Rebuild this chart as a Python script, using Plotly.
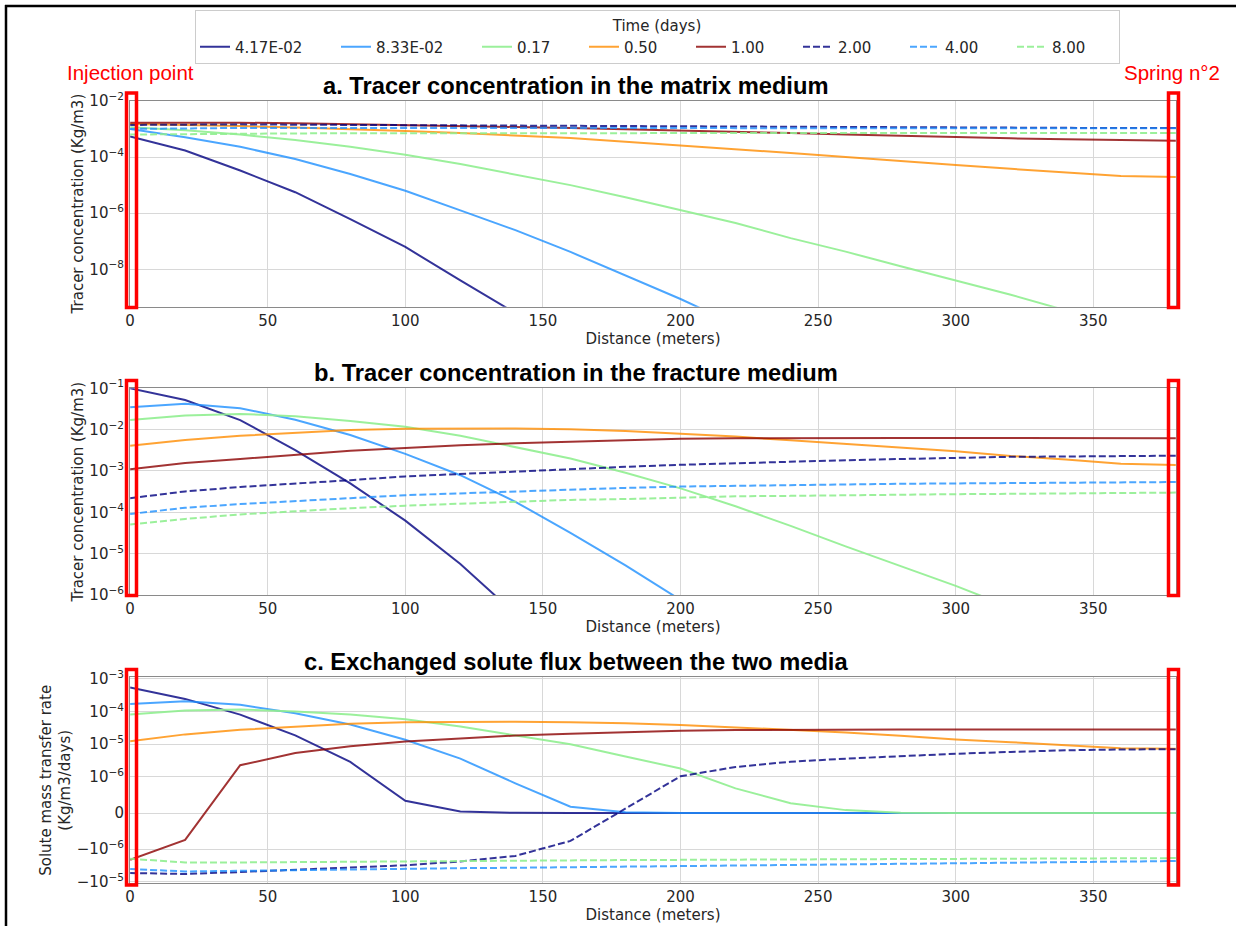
import math
import plotly.graph_objects as go

# ---------------- data ----------------
distance = [0, 20, 40, 60, 80, 100, 120, 140, 160, 180, 200,
            220, 240, 260, 280, 300, 320, 340, 360, 380]
time_labels = ["4.17E-02", "8.33E-02", "0.17", "0.50", "1.00", "2.00", "4.00", "8.00"]

# a. matrix concentration (Kg/m3)
m_t1 = [5.4e-4, 1.7e-4, 3.3e-5, 5.6e-6, 6.2e-7, 6.3e-8, 4.1e-9, 2.8e-10]
m_t2 = [1.0e-3, 5.0e-4, 2.3e-4, 8.5e-5, 2.5e-5, 6.3e-6, 1.26e-6, 2.5e-7, 4.2e-8, 6.3e-9,
        8.9e-10, 1.1e-10, 1.3e-11]
m_t3 = [1.15e-3, 8.9e-4, 6.3e-4, 4.0e-4, 2.3e-4, 1.2e-4, 5.6e-5, 2.4e-5, 1.0e-5, 3.7e-6,
        1.3e-6, 4.5e-7, 1.3e-7, 4.3e-8, 1.3e-8, 4.0e-9, 1.26e-9, 3.5e-10, 1.0e-10, 2.5e-11]
m_t4 = [1.48e-3, 1.38e-3, 1.26e-3, 1.12e-3, 1.0e-3, 8.5e-4, 7.1e-4, 5.9e-4, 4.7e-4, 3.5e-4,
        2.6e-4, 1.9e-4, 1.38e-4, 1.0e-4, 7.4e-5, 5.2e-5, 3.8e-5, 2.8e-5, 2.1e-5, 1.95e-5]
m_t5 = [1.66e-3, 1.7e-3, 1.66e-3, 1.58e-3, 1.48e-3, 1.35e-3, 1.26e-3, 1.17e-3, 1.07e-3, 9.8e-4,
        8.7e-4, 7.9e-4, 7.1e-4, 6.3e-4, 5.6e-4, 5.0e-4, 4.6e-4, 4.3e-4, 4.0e-4, 3.8e-4]
m_t6 = [1.38e-3, 1.45e-3, 1.45e-3, 1.41e-3, 1.38e-3, 1.35e-3, 1.32e-3, 1.29e-3, 1.26e-3, 1.23e-3,
        1.2e-3, 1.17e-3, 1.15e-3, 1.12e-3, 1.12e-3, 1.1e-3, 1.1e-3, 1.07e-3, 1.07e-3, 1.07e-3]
m_t7 = [1.0e-3, 1.06e-3, 1.08e-3, 1.08e-3, 1.08e-3, 1.08e-3, 1.08e-3, 1.08e-3, 1.07e-3, 1.07e-3,
        1.07e-3, 1.07e-3, 1.06e-3, 1.06e-3, 1.06e-3, 1.06e-3, 1.05e-3, 1.05e-3, 1.05e-3, 1.05e-3]
m_t8 = [6.3e-4, 6.6e-4, 6.8e-4, 6.9e-4, 7.0e-4, 7.0e-4, 7.1e-4, 7.1e-4, 7.1e-4, 7.1e-4,
        7.2e-4, 7.2e-4, 7.2e-4, 7.2e-4, 7.2e-4, 7.2e-4, 7.2e-4, 7.2e-4, 7.2e-4, 7.2e-4]

# b. fracture concentration (Kg/m3)
f_t1 = [1.0e-1, 5.2e-2, 1.7e-2, 3.2e-3, 5.0e-4, 6.3e-5, 5.6e-6, 3.5e-7]
f_t2 = [3.5e-2, 4.2e-2, 3.3e-2, 1.74e-2, 7.4e-3, 2.6e-3, 7.9e-4, 1.8e-4, 3.2e-5, 5.2e-6,
        7.6e-7, 1.0e-7]
f_t3 = [1.7e-2, 2.2e-2, 2.4e-2, 2.1e-2, 1.62e-2, 1.17e-2, 7.1e-3, 3.8e-3, 2.0e-3, 9.1e-4,
        3.8e-4, 1.4e-4, 4.7e-5, 1.5e-5, 5.0e-6, 1.66e-6, 5.0e-7, 1.6e-7]
f_t4 = [4.1e-3, 5.6e-3, 7.1e-3, 8.5e-3, 9.8e-3, 1.05e-2, 1.07e-2, 1.07e-2, 1.02e-2, 9.3e-3,
        7.9e-3, 6.8e-3, 5.5e-3, 4.5e-3, 3.6e-3, 3.0e-3, 2.3e-3, 1.9e-3, 1.5e-3, 1.4e-3]
f_t5 = [1.1e-3, 1.55e-3, 1.95e-3, 2.5e-3, 3.1e-3, 3.6e-3, 4.2e-3, 4.7e-3, 5.1e-3, 5.6e-3,
        6.0e-3, 6.2e-3, 6.3e-3, 6.3e-3, 6.3e-3, 6.3e-3, 6.3e-3, 6.2e-3, 6.2e-3, 6.2e-3]
f_t6 = [2.2e-4, 3.2e-4, 4.1e-4, 4.9e-4, 6.0e-4, 7.4e-4, 8.5e-4, 9.8e-4, 1.12e-3, 1.26e-3,
        1.41e-3, 1.55e-3, 1.7e-3, 1.82e-3, 1.95e-3, 2.1e-3, 2.2e-3, 2.24e-3, 2.3e-3, 2.34e-3]
f_t7 = [9.1e-5, 1.29e-4, 1.58e-4, 1.9e-4, 2.2e-4, 2.6e-4, 2.9e-4, 3.2e-4, 3.6e-4, 3.9e-4,
        4.2e-4, 4.4e-4, 4.5e-4, 4.7e-4, 4.9e-4, 5.0e-4, 5.1e-4, 5.25e-4, 5.3e-4, 5.4e-4]
f_t8 = [5.1e-5, 6.9e-5, 8.9e-5, 1.07e-4, 1.26e-4, 1.45e-4, 1.62e-4, 1.82e-4, 2.0e-4, 2.1e-4,
        2.3e-4, 2.45e-4, 2.5e-4, 2.6e-4, 2.7e-4, 2.75e-4, 2.8e-4, 2.9e-4, 2.95e-4, 3.0e-4]

# c. exchanged solute flux (Kg/m3/days)
x_t1 = [5.5e-4, 2.45e-4, 8.1e-5, 1.86e-5, 2.85e-6, 3.4e-7, 4e-8, 5e-9, 1e-9, 0,
        0, 0, 0, 0, 0, 0, 0, 0, 0, 0]
x_t2 = [1.72e-4, 2.07e-4, 1.61e-4, 8.9e-5, 4.0e-5, 1.37e-5, 3.6e-6, 8.2e-7, 1.73e-7, 2e-8,
        0, 0, 0, 0, 0, 0, 0, 0, 0, 0]
x_t3 = [8.1e-5, 1.08e-4, 1.16e-4, 1.0e-4, 8.1e-5, 5.8e-5, 3.5e-5, 1.83e-5, 9.9e-6, 4.2e-6,
        1.79e-6, 6.8e-7, 2.7e-7, 8e-8, 1e-8, 0, 0, 0, 0, 0]
x_t4 = [1.24e-5, 2.0e-5, 2.77e-5, 3.5e-5, 4.2e-5, 4.7e-5, 4.9e-5, 4.9e-5, 4.7e-5, 4.4e-5,
        3.9e-5, 3.3e-5, 2.8e-5, 2.3e-5, 1.8e-5, 1.4e-5, 1.15e-5, 9.3e-6, 7.5e-6, 7.3e-6]
x_t5 = [-2.1e-6, -7.4e-7, 2.26e-6, 5.4e-6, 8.6e-6, 1.22e-5, 1.5e-5, 1.85e-5, 2.1e-5, 2.4e-5,
        2.6e-5, 2.72e-5, 2.8e-5, 2.83e-5, 2.83e-5, 2.83e-5, 2.83e-5, 2.83e-5, 2.83e-5, 2.83e-5]
x_t6 = [-5.36e-6, -5.75e-6, -5.0e-6, -4.25e-6, -3.6e-6, -3.1e-6, -2.37e-6, -1.6e-6, -7.7e-7, 1.24e-7,
        1.04e-6, 2.0e-6, 2.9e-6, 3.6e-6, 4.3e-6, 5.1e-6, 5.8e-6, 6.5e-6, 6.9e-6, 7.0e-6]
x_t7 = [-4.05e-6, -4.8e-6, -4.6e-6, -4.35e-6, -4.1e-6, -3.95e-6, -3.8e-6, -3.7e-6, -3.55e-6, -3.4e-6,
        -3.28e-6, -3.15e-6, -3.0e-6, -2.9e-6, -2.75e-6, -2.6e-6, -2.5e-6, -2.4e-6, -2.35e-6, -2.3e-6]
x_t8 = [-1.96e-6, -2.54e-6, -2.54e-6, -2.5e-6, -2.45e-6, -2.37e-6, -2.3e-6, -2.25e-6, -2.2e-6, -2.15e-6,
        -2.1e-6, -2.07e-6, -2.03e-6, -2.0e-6, -2.0e-6, -1.98e-6, -1.95e-6, -1.92e-6, -1.9e-6, -1.87e-6]

matrix_series = [m_t1, m_t2, m_t3, m_t4, m_t5, m_t6, m_t7, m_t8]
fracture_series = [f_t1, f_t2, f_t3, f_t4, f_t5, f_t6, f_t7, f_t8]
flux_series = [x_t1, x_t2, x_t3, x_t4, x_t5, x_t6, x_t7, x_t8]

log_ticks_a = [1e-2, 1e-4, 1e-6, 1e-8]
log_text_a = ["10<sup>−2</sup>", "10<sup>−4</sup>", "10<sup>−6</sup>", "10<sup>−8</sup>"]
log_ticks_b = [1e-1, 1e-2, 1e-3, 1e-4, 1e-5, 1e-6]
log_text_b = ["10<sup>−1</sup>", "10<sup>−2</sup>", "10<sup>−3</sup>", "10<sup>−4</sup>",
              "10<sup>−5</sup>", "10<sup>−6</sup>"]
symlog_ticks_c = [1e-3, 1e-4, 1e-5, 1e-6, 0, -1e-6, -1e-5]
symlog_text_c = ["10<sup>−3</sup>", "10<sup>−4</sup>", "10<sup>−5</sup>", "10<sup>−6</sup>", "0",
                 "−10<sup>−6</sup>", "−10<sup>−5</sup>"]
x_ticks = [0, 50, 100, 150, 200, 250, 300, 350]

# ---------------- styling ----------------
colors = ["rgba(0,0,128,0.8)", "rgba(30,144,255,0.8)", "rgba(144,238,144,0.9)",
          "rgba(255,140,0,0.8)", "rgba(139,0,0,0.8)",
          "rgba(0,0,128,0.8)", "rgba(30,144,255,0.8)", "rgba(144,238,144,0.9)"]
dashes = ["solid"] * 5 + ["7px,3px"] * 3
legend_widths = [96, 96, 62, 62, 62, 62, 62, 62]

# symmetric-log scale (linthresh 1e-6, linscale 1, base 10) as used by the source figure
LINTHRESH = 1e-6
LINSCALE = 1.0 / (1.0 - 1.0 / 10.0)


def symlog(v):
    if v is None:
        return None
    a = abs(v)
    if a <= LINTHRESH:
        return v / LINTHRESH * LINSCALE
    return math.copysign(LINSCALE + math.log10(a / LINTHRESH), v)


W, H = 1236, 926


def px(x):
    return x / W


def py(y):
    return 1 - y / H


fig = go.Figure()

for i, lab in enumerate(time_labels):
    common = dict(mode="lines", name=lab, legendgroup=lab,
                  line=dict(color=colors[i], width=2, dash=dashes[i]))
    fig.add_trace(go.Scatter(x=distance[:len(matrix_series[i])], y=matrix_series[i],
                             xaxis="x", yaxis="y", showlegend=True,
                             legendwidth=legend_widths[i], **common))
    fig.add_trace(go.Scatter(x=distance[:len(fracture_series[i])], y=fracture_series[i],
                             xaxis="x2", yaxis="y2", showlegend=False, **common))
    fig.add_trace(go.Scatter(x=distance, y=[symlog(v) for v in flux_series[i]],
                             customdata=flux_series[i],
                             hovertemplate="%{customdata:.3e}<extra>" + lab + "</extra>",
                             xaxis="x3", yaxis="y3", showlegend=False, **common))

tick_font = dict(family="DejaVu Sans", size=15, color="#262626")
title_font = dict(family="DejaVu Sans", size=15, color="#262626")
ax_common = dict(showline=True, linecolor="#8a8a8a", linewidth=1.3, mirror=True,
                 showgrid=True, gridcolor="#d8d8d8", gridwidth=1, zeroline=False,
                 ticks="", tickfont=tick_font, automargin=False)

xdom = [px(130.1), px(1175.9)]
xa = dict(ax_common, domain=xdom, range=[0, 380], tickvals=x_ticks,
          title=dict(text="Distance (meters)", font=title_font, standoff=3),
          ticklabelstandoff=0)

fig.update_layout(
    template="none",
    width=W, height=H, autosize=False,
    margin=dict(l=0, r=0, t=0, b=0, autoexpand=False),
    paper_bgcolor="white", plot_bgcolor="white",
    xaxis=dict(xa, anchor="y"),
    xaxis2=dict(xa, anchor="y2"),
    xaxis3=dict(xa, anchor="y3"),
    yaxis=dict(ax_common, type="log", anchor="x", domain=[py(306.7), py(100.5)],
               range=[-9.325, -1.99], tickvals=log_ticks_a, ticktext=log_text_a,
               ticklabelstandoff=2,
               title=dict(text="Tracer concentration (Kg/m3)", font=title_font, standoff=2)),
    yaxis2=dict(ax_common, type="log", anchor="x2", domain=[py(595), py(388.3)],
                range=[-6, -1], tickvals=log_ticks_b, ticktext=log_text_b,
                ticklabelstandoff=2,
                title=dict(text="Tracer concentration (Kg/m3)", font=title_font, standoff=2)),
    yaxis3=dict(ax_common, anchor="x3", domain=[py(883.3), py(677.3)],
                range=[-2.156, 4.163], tickvals=[symlog(v) for v in symlog_ticks_c],
                ticktext=symlog_text_c, ticklabelstandoff=2,
                title=dict(text="Solute mass transfer rate<br>(Kg/m3/days)", font=title_font,
                           standoff=2)),
    legend=dict(orientation="h", x=px(195), y=py(10), xanchor="left", yanchor="top",
                bgcolor="rgba(255,255,255,0.8)", bordercolor="#cccccc", borderwidth=1,
                font=dict(family="DejaVu Sans", size=15, color="#262626"),
                title=dict(text="Time (days)", side="top center",
                           font=dict(family="DejaVu Sans", size=15, color="#262626")),
                itemwidth=30, tracegroupgap=0),
    showlegend=True,
)

# panel titles
titles = [("a. Tracer concentration in the matrix medium", 86),
          ("b. Tracer concentration in the fracture medium", 373),
          ("c. Exchanged solute flux between the two media", 662)]
for text, yc in titles:
    fig.add_annotation(text="<b>" + text + "</b>", x=px(575.5), y=py(yc), xref="paper",
                       yref="paper", xanchor="center", yanchor="middle", showarrow=False,
                       font=dict(family="Liberation Sans", size=23.7, color="black"))

# red labels
fig.add_annotation(text="Injection point", x=px(65), y=py(72), xref="paper", yref="paper",
                   xanchor="left", yanchor="middle", showarrow=False,
                   font=dict(family="Liberation Sans", size=20.5, color="#ff0000"))
fig.add_annotation(text="Spring n°2", x=px(1222), y=py(72), xref="paper", yref="paper",
                   xanchor="right", yanchor="middle", showarrow=False,
                   font=dict(family="Liberation Sans", size=20.5, color="#ff0000"))

# red highlight boxes at the injection point and at the spring
boxes = [(93, 307.5), (380.5, 595.5), (669.5, 885)]
for top, bottom in boxes:
    for left, right in [(126.5, 136.5), (1168.5, 1178.5)]:
        fig.add_shape(type="rect", xref="paper", yref="paper",
                      x0=px(left), x1=px(right), y0=py(bottom), y1=py(top),
                      line=dict(color="#ff0000", width=3.5), fillcolor="rgba(0,0,0,0)",
                      layer="above")

# outer black frame (left and top edges only are inside the picture)
fig.add_shape(type="line", xref="paper", yref="paper", x0=px(6), x1=px(6),
              y0=py(926), y1=py(5), line=dict(color="black", width=2.5), layer="above")
fig.add_shape(type="line", xref="paper", yref="paper", x0=px(5), x1=px(1236),
              y0=py(6), y1=py(6), line=dict(color="black", width=2.5), layer="above")

# remove the browser's default 8px page margin so the figure fills the window exactly
fig.write_html("out.html", post_script="document.body.style.margin='0';",
               config={"displayModeBar": False})
